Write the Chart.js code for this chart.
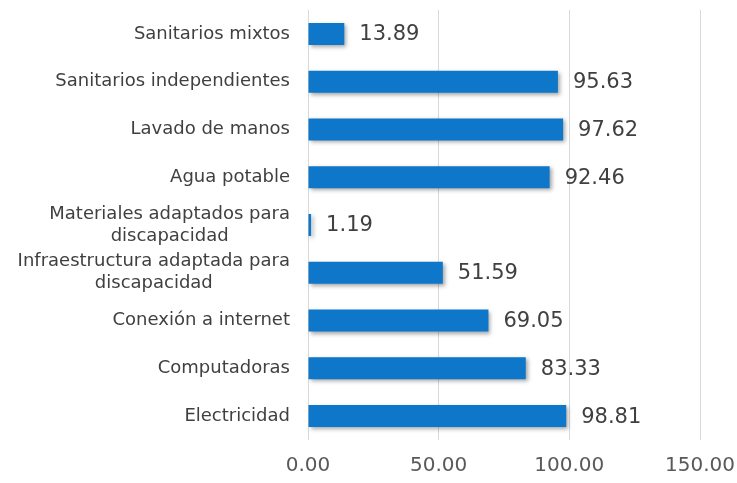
<!DOCTYPE html>
<html>
<head>
<meta charset="utf-8">
<script src="https://cdn.jsdelivr.net/npm/chart.js@4/dist/chart.umd.min.js"></script>
<style>
  html, body { margin: 0; padding: 0; background: #fff; }
  #wrap { width: 737px; height: 483px; position: relative; }
</style>
</head>
<body>
<div id="wrap"><canvas id="chart"></canvas></div>
<script>
const categories = [
  'Sanitarios mixtos',
  'Sanitarios independientes',
  'Lavado de manos',
  'Agua potable',
  ['Materiales adaptados para', 'discapacidad'],
  ['Infraestructura adaptada para', 'discapacidad'],
  'Conexión a internet',
  'Computadoras',
  'Electricidad'
];
const values = [13.89, 95.63, 97.62, 92.46, 1.19, 51.59, 69.05, 83.33, 98.81];
const xTicks = [0, 50, 100, 150];

const fontFamily = "'DejaVu Sans', sans-serif";
const catFont = '18px ' + fontFamily;
const catLineHeight = 22;

const barShadow = {
  id: 'barShadow',
  beforeDatasetsDraw(chart) {
    const ctx = chart.ctx;
    ctx.save();
    ctx.shadowColor = 'rgba(0, 0, 0, 0.35)';
    ctx.shadowBlur = 4;
    ctx.shadowOffsetX = 2;
    ctx.shadowOffsetY = 2;
  },
  afterDatasetsDraw(chart) {
    chart.ctx.restore();
  }
};

// category labels: block right-aligned to the axis, lines centred within the block
const categoryLabels = {
  id: 'categoryLabels',
  afterDraw(chart) {
    const ctx = chart.ctx;
    const yScale = chart.scales.y;
    const right = chart.chartArea.left - 18;
    ctx.save();
    ctx.font = catFont;
    ctx.fillStyle = '#404040';
    ctx.textAlign = 'center';
    ctx.textBaseline = 'middle';
    categories.forEach((label, i) => {
      const lines = Array.isArray(label) ? label : [label];
      const w = Math.max(...lines.map(l => ctx.measureText(l).width));
      const cx = right - w / 2;
      const cy = yScale.getPixelForTick(i);
      const y0 = cy - (lines.length - 1) * catLineHeight / 2;
      lines.forEach((l, j) => ctx.fillText(l, cx, y0 + j * catLineHeight));
    });
    ctx.restore();
  }
};

const valueLabels = {
  id: 'valueLabels',
  afterDraw(chart) {
    const ctx = chart.ctx;
    const meta = chart.getDatasetMeta(0);
    ctx.save();
    ctx.font = '21px ' + fontFamily;
    ctx.fillStyle = '#404040';
    ctx.textAlign = 'left';
    ctx.textBaseline = 'middle';
    meta.data.forEach((bar, i) => {
      ctx.fillText(values[i].toFixed(2), bar.x + 15, bar.y + 1);
    });
    ctx.restore();
  }
};

new Chart(document.getElementById('chart'), {
  type: 'bar',
  data: {
    labels: categories,
    datasets: [{
      data: values,
      backgroundColor: '#0e77c9',
      borderWidth: 0,
      barPercentage: 0.46,
      categoryPercentage: 1.0
    }]
  },
  plugins: [barShadow, categoryLabels, valueLabels],
  options: {
    indexAxis: 'y',
    responsive: true,
    maintainAspectRatio: false,
    animation: false,
    layout: { padding: { top: 10, right: 37, left: 0, bottom: 0 } },
    plugins: {
      legend: { display: false },
      tooltip: { enabled: false }
    },
    scales: {
      x: {
        min: 0,
        max: 150,
        afterBuildTicks(scale) {
          scale.ticks = xTicks.map(v => ({ value: v }));
        },
        afterFit(scale) {
          scale.height = 43;
          scale.paddingLeft = 0;
          scale.paddingRight = 0;
        },
        grid: { color: '#d9d9d9', lineWidth: 1, drawTicks: false },
        border: { display: false },
        ticks: {
          padding: 14,
          color: '#595959',
          font: { family: fontFamily, size: 20 },
          callback: v => v.toFixed(2),
          maxRotation: 0
        }
      },
      y: {
        afterFit(scale) {
          scale.width = 308;
          scale.paddingTop = 0;
          scale.paddingBottom = 0;
        },
        grid: { display: false, drawTicks: false, tickLength: 0 },
        border: { display: false },
        ticks: { display: false }
      }
    }
  }
});
</script>
</body>
</html>
